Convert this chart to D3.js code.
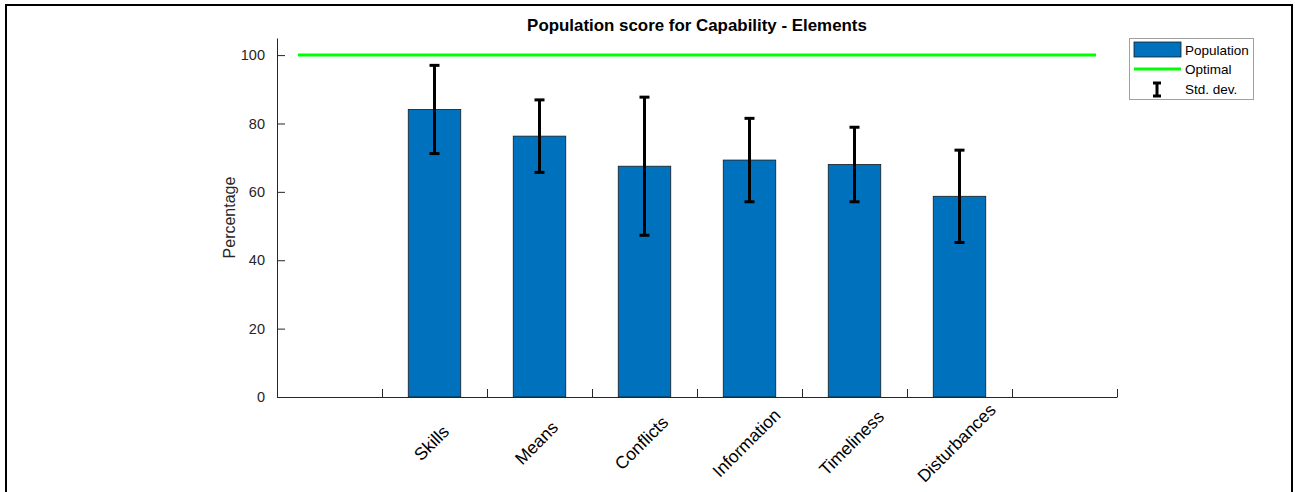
<!DOCTYPE html>
<html>
<head>
<meta charset="utf-8">
<script src="https://cdn.jsdelivr.net/npm/d3@7"></script>
<style>
  body { margin: 0; background: #fff; }
  svg { font-family: "Liberation Sans", Arial, Helvetica, sans-serif; }
</style>
</head>
<body>
<svg id="chart" width="1295" height="492"></svg>
<script>
// chart data
const categories = ["Skills", "Means", "Conflicts", "Information", "Timeliness", "Disturbances"];
const population = [84.1, 76.3, 67.5, 69.3, 68.0, 58.7];
const stdDev = [12.9, 10.6, 20.2, 12.2, 10.9, 13.5];
const optimal = 100;
const yTicks = [0, 20, 40, 60, 80, 100];
const xTicks = [1, 2, 3, 4, 5, 6, 7, 8];

const barColor = "#0072BD";
const axisColor = "#262626";

const svg = d3.select("#chart");

// figure frame
svg.append("rect")
    .attr("x", 6).attr("y", 5)
    .attr("width", 1286).attr("height", 500)
    .attr("fill", "none")
    .attr("stroke", "#000")
    .attr("stroke-width", 2);

// scales
const x = d3.scaleLinear().domain([0, 8]).range([277, 1117]);
const y = d3.scaleLinear().domain([0, 105]).range([397, 38]);

const data = categories.map((c, i) => ({
    name: c,
    pos: i + 1.5,
    value: population[i],
    sd: stdDev[i],
}));

// bars
svg.append("g")
    .selectAll("rect")
    .data(data)
    .join("rect")
    .attr("x", (d) => x(d.pos - 0.25))
    .attr("y", (d) => y(d.value))
    .attr("width", (d) => x(d.pos + 0.25) - x(d.pos - 0.25))
    .attr("height", (d) => y(0) - y(d.value))
    .attr("fill", barColor)
    .attr("stroke", "#1a1a1a")
    .attr("stroke-width", 0.8);

// optimal line
svg.append("line")
    .attr("x1", x(0.2)).attr("x2", x(7.8))
    .attr("y1", y(optimal)).attr("y2", y(optimal))
    .attr("stroke", "#00FF00")
    .attr("stroke-width", 3);

// error bars
const err = svg.append("g").attr("stroke", "#000").attr("stroke-width", 3);
data.forEach((d) => {
    const cx = x(d.pos);
    err.append("line")
        .attr("x1", cx).attr("x2", cx)
        .attr("y1", y(d.value + d.sd)).attr("y2", y(d.value - d.sd));
    [d.value + d.sd, d.value - d.sd].forEach((v) => {
        err.append("line")
            .attr("x1", cx - 5).attr("x2", cx + 5)
            .attr("y1", y(v)).attr("y2", y(v));
    });
});

// y axis
const yAxis = svg.append("g")
    .attr("transform", `translate(${x(0)},0)`)
    .call(d3.axisLeft(y).tickValues(yTicks).tickSizeInner(-8).tickSizeOuter(0).tickPadding(12));
yAxis.select(".domain").attr("stroke", axisColor);
yAxis.selectAll(".tick line").attr("stroke", axisColor);
yAxis.selectAll(".tick text")
    .attr("fill", axisColor)
    .style("font-size", "14.5px")
    .style("font-family", "Liberation Sans, Arial, sans-serif");

// x axis
const xAxis = svg.append("g")
    .attr("transform", `translate(0,${y(0)})`)
    .call(d3.axisBottom(x).tickValues(xTicks).tickSizeInner(-8).tickSizeOuter(0).tickFormat(""));
xAxis.select(".domain").attr("stroke", axisColor);
xAxis.selectAll(".tick line").attr("stroke", axisColor);

// category labels
svg.append("g")
    .selectAll("text")
    .data(data)
    .join("text")
    .attr("transform", (d) => `translate(${x(d.pos) - 3},443) rotate(-45)`)
    .attr("text-anchor", "middle")
    .attr("dominant-baseline", "central")
    .attr("fill", "#000")
    .style("font-size", "17.5px")
    .text((d) => d.name);

// y label
svg.append("text")
    .attr("transform", `translate(235,${(y(0) + y(105)) / 2}) rotate(-90)`)
    .attr("text-anchor", "middle")
    .attr("fill", axisColor)
    .style("font-size", "16px")
    .text("Percentage");

// title
svg.append("text")
    .attr("x", (x(0) + x(8)) / 2)
    .attr("y", 31)
    .attr("text-anchor", "middle")
    .attr("font-weight", "bold")
    .attr("fill", "#000")
    .style("font-size", "16.9px")
    .text("Population score for Capability - Elements");

// legend
const lg = svg.append("g");
lg.append("rect")
    .attr("x", 1129.5).attr("y", 38.5)
    .attr("width", 124).attr("height", 61)
    .attr("fill", "#fff")
    .attr("stroke", "#a0a0a0")
    .attr("stroke-width", 1);
lg.append("rect")
    .attr("x", 1134).attr("y", 42)
    .attr("width", 47).attr("height", 15)
    .attr("fill", barColor)
    .attr("stroke", "#1a1a1a")
    .attr("stroke-width", 0.8);
lg.append("line")
    .attr("x1", 1134).attr("x2", 1181)
    .attr("y1", 69).attr("y2", 69)
    .attr("stroke", "#00FF00")
    .attr("stroke-width", 3);
const ib = lg.append("g").attr("stroke", "#000").attr("stroke-width", 3);
ib.append("line").attr("x1", 1157).attr("x2", 1157).attr("y1", 83).attr("y2", 96);
ib.append("line").attr("x1", 1153).attr("x2", 1161).attr("y1", 83).attr("y2", 83);
ib.append("line").attr("x1", 1153).attr("x2", 1161).attr("y1", 96).attr("y2", 96);
const legendLabels = ["Population", "Optimal", "Std. dev."];
lg.selectAll("text.lbl")
    .data(legendLabels)
    .join("text")
    .attr("class", "lbl")
    .attr("x", 1185)
    .attr("y", (d, i) => 50 + i * 19.5)
    .attr("dominant-baseline", "central")
    .attr("fill", "#000")
    .style("font-size", "13.5px")
    .text((d) => d);
</script>
</body>
</html>
